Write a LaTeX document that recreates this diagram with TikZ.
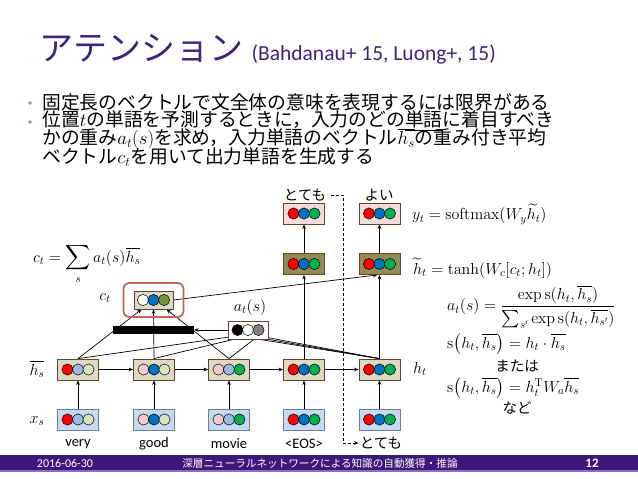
\RequirePackage{fix-cm}
\documentclass[tikz,border=0pt]{standalone}
\usepackage{amsmath}
\usepackage[no-math]{fontspec}
\setmainfont{Carlito}
\newfontfamily\jp{Noto Sans CJK JP}
\usetikzlibrary{arrows.meta}
\definecolor{tpurple}{RGB}{63,36,124}
\definecolor{fpurple}{RGB}{58,26,120}
\definecolor{fline}{RGB}{140,110,200}
\definecolor{hfill}{RGB}{221,217,195}
\definecolor{hdraw}{RGB}{89,70,52}
\definecolor{xfill}{RGB}{197,217,241}
\definecolor{xdraw}{RGB}{110,125,150}
\definecolor{yfill}{RGB}{242,220,219}
\definecolor{tfill}{RGB}{148,138,84}
\definecolor{cred}{RGB}{255,0,0}
\definecolor{cblue}{RGB}{0,112,192}
\definecolor{cgreen}{RGB}{0,176,80}
\definecolor{clblue}{RGB}{155,187,225}
\definecolor{clgreen}{RGB}{215,228,189}
\definecolor{cpink}{RGB}{246,200,200}
\definecolor{colive}{RGB}{119,147,60}
\definecolor{cgray}{RGB}{128,128,128}
\definecolor{ctframe}{RGB}{192,100,95}
\definecolor{bulletc}{RGB}{130,150,190}
\pgfdeclarelayer{bg}
\pgfdeclarelayer{paper}
\pgfsetlayers{paper,bg,main}
\newcommand\triple[4]{%
  \node[dotn, fill=#2] (#1-1) at ([xshift=-10.5pt]#1.center) {};
  \node[dotn, fill=#3] (#1-2) at (#1.center) {};
  \node[dotn, fill=#4] (#1-3) at ([xshift=10.5pt]#1.center) {};
}
\begin{document}
\begin{tikzpicture}[x=1pt,y=-1pt,
  arr/.style={-{Stealth[length=4.5pt,width=3.6pt]}, line width=0.7pt},
  box/.style={draw=hdraw, line width=0.8pt, minimum width=41pt, minimum height=21pt, inner sep=0pt},
  hbox/.style={box, fill=hfill},
  xbox/.style={box, fill=xfill, draw=xdraw},
  ybox/.style={box, fill=yfill},
  tbox/.style={box, fill=tfill},
  dotn/.style={circle, draw=black, line width=0.5pt, minimum size=11.2pt, inner sep=0pt},
  jpl/.style={font=\jp\fontsize{14.5}{16}\selectfont, inner sep=0pt},
  eng/.style={font=\fontsize{14.5}{16}\selectfont, inner sep=0pt},
  mlab/.style={font=\fontsize{16}{18}\selectfont, inner sep=0pt},
  dlab/.style={font=\fontsize{16}{18}\selectfont, inner sep=0pt},
  btext/.style={anchor=west, inner sep=0pt, font=\jp\fontsize{18.8}{20}\selectfont},
]
\begin{pgfonlayer}{paper}
\fill[white] (0,0) rectangle (638,479);
\end{pgfonlayer}
\useasboundingbox (0,0) rectangle (638,479);

% title
\node[anchor=base west, inner sep=0pt, text=tpurple, font=\jp\fontsize{34}{36}\selectfont] (title) at (39,60) {アテンション};
\node[anchor=base west, inner sep=0pt, text=tpurple, font=\fontsize{21.5}{24}\selectfont] (cite) at ([xshift=8pt]title.base east) {(Bahdanau+ 15, Luong+, 15)};

% bullets
\fill[bulletc] (30,103) circle (1.8pt);
\fill[bulletc] (30,122) circle (1.8pt);
\node[btext] (b1) at (42,102) {固定長のベクトルで文全体の意味を表現するには限界がある};
\node[btext] (b2) at (42,121) {位置$t$の単語を予測するときに，入力のどの\underline{単語}に着目すべき};
\node[btext] (b3) at (42,139) {かの重み$a_t(s)$を求め，入力単語のベクトル$\overline{h_s}$の重み付き平均};
\node[btext] (b4) at (42,157) {ベクトル$c_t$を用いて出力単語を生成する};

% boxes
\node[xbox] (x1) at (78,419.5) {};
\node[xbox] (x2) at (154,419.5) {};
\node[xbox] (x3) at (229,419.5) {};
\node[xbox] (x4) at (304,419.5) {};
\node[xbox] (x5) at (379.5,419.5) {};
\node[hbox] (h1) at (78,369.5) {};
\node[hbox] (h2) at (154,369.5) {};
\node[hbox] (h3) at (229,369.5) {};
\node[hbox] (h4) at (304,369.5) {};
\node[hbox] (h5) at (379.5,369.5) {};
\node[tbox] (t4) at (304,264) {};
\node[tbox] (t5) at (379.5,264) {};
\node[ybox] (y4) at (304,213.5) {};
\node[ybox] (y5) at (379.5,213.5) {};
\node[draw=ctframe, line width=1.8pt, rounded corners=6pt, minimum width=60pt, minimum height=34pt] (ctf) at (153.5,300) {};
\node[box, fill=hfill, minimum width=39pt, minimum height=18pt] (ct) at (153.5,300) {};
\node[box, fill=white, minimum width=40pt, minimum height=18pt] (at) at (248,330) {};
\node[fill=black, minimum width=81pt, minimum height=8pt, inner sep=0pt] (bar) at (153.5,330) {};

\triple{x1}{cred}{clblue}{clgreen}
\triple{x2}{cpink}{cblue}{clgreen}
\triple{x3}{cpink}{clblue}{cgreen}
\triple{x4}{cred}{cblue}{cgreen}
\triple{x5}{cred}{cblue}{cgreen}
\triple{h1}{cred}{clblue}{clgreen}
\triple{h2}{cpink}{cblue}{clgreen}
\triple{h3}{cpink}{clblue}{cgreen}
\triple{h4}{cred}{cblue}{cgreen}
\triple{h5}{cred}{cblue}{cgreen}
\triple{t4}{cred}{cblue}{cgreen}
\triple{t5}{cred}{cblue}{cgreen}
\triple{y4}{cred}{cblue}{cgreen}
\triple{y5}{cred}{cblue}{cgreen}
\triple{ct}{white}{cblue}{colive}
\triple{at}{black}{white}{cgray}

% labels
\node[eng] (w1) at (78,444) {very};
\node[eng] (w2) at (154,444) {good};
\node[eng] (w3) at (229,444) {movie};
\node[eng] (w4) at (304,444) {\textless EOS\textgreater};
\node[jpl] (w5) at (381,443) {とても};
\node[jpl] (l4) at (305,195) {とても};
\node[jpl] (l5) at (379,195) {よい};
\node[dlab] (lhs) at (37,369) {$\overline{h_s}$};
\node[dlab] (lxs) at (37,421) {$x_s$};
\node[dlab] (lht) at (420,369) {$h_t$};
\node[dlab] (lct) at (105,298) {$c_t$};
\node[dlab] (lat) at (250,307) {$a_t(s)$};

% formulas
\node[mlab, anchor=base west] (fc) at (33,262) {$c_t = \displaystyle\sum_s a_t(s)\overline{h_s}$};
\node[mlab, anchor=west] (fy) at (412,214) {$y_t = \mathrm{softmax}(W_y\widetilde{h_t})$};
\node[mlab, anchor=west] (fh) at (413,268) {$\widetilde{h}_t = \tanh(W_c[c_t;h_t])$};
\node[mlab, anchor=west] (fa) at (447,307) {$a_t(s) = \dfrac{\exp \mathrm{s}(h_t,\overline{h_s})}{\sum_{s'}\exp \mathrm{s}(h_t,\overline{h_{s'}})}$};
\node[mlab, anchor=west] (fs1) at (447,344) {$\mathrm{s}\bigl(h_t,\overline{h_s}\bigr) = h_t\cdot\overline{h_s}$};
\node[jpl] (mata) at (517,366) {または};
\node[mlab, anchor=west] (fs2) at (447,388) {$\mathrm{s}\bigl(h_t,\overline{h_s}\bigr) = h_t^{\mathrm{T}}W_a\overline{h_s}$};
\node[jpl] (nado) at (517,408) {など};

% connectors
\begin{pgfonlayer}{bg}
\foreach \i in {1,...,5} { \draw[arr] (x\i.north) -- (h\i.south); }
\foreach \i/\j in {1/2,2/3,3/4,4/5} { \draw[arr] (h\i.east) -- (h\j.west); }
\draw[arr] (h4.north) -- (t4.south);
\draw[arr] (h5.north) -- (t5.south);
\draw[arr] (t4.north) -- (y4.south);
\draw[arr] (t5.north) -- (y5.south);
\draw[arr] (ct.east) -- ([xshift=-2pt]t5.south);
\draw[arr] (h1.north) -- ([xshift=-12pt]ct.south);
\draw[arr] (h2.north) -- (ct.south);
\draw[arr] (h3.north) -- ([xshift=13pt]ct.south);
\draw[arr] (h1.north) -- (at-1.south);
\draw[arr] (h2.north) -- (at-2.south);
\draw[arr] (h3.north) -- (at-3.south);
\draw[arr] (h5.north) -- (at-1.south);
\draw[arr] (h5.north) -- (at-2.south);
\draw[arr] (h5.north) -- (at-3.south);
\end{pgfonlayer}
\draw[arr] (at.west) -- (bar.east);
\coordinate (dtop) at (343,195);
\draw[arr, dash pattern=on 3pt off 2pt] ([xshift=5pt]l4.east) -- (dtop) |- ([xshift=-1pt]w5.west);

% footer
\fill[fpurple] (0,455) rectangle (638,470);
\fill[fline] (0,470) rectangle (638,472);
\node[text=white, inner sep=0pt, font=\fontsize{12}{14}\selectfont] (date) at (65,463) {2016-06-30};
\node[text=white, inner sep=0pt, font=\jp\fontsize{10.6}{12}\selectfont] (ftitle) at (320,463) {深層ニューラルネットワークによる知識の自動獲得・推論};
\node[text=white, inner sep=0pt, font=\bfseries\fontsize{13}{15}\selectfont] (pnum) at (592,463) {12};
\end{tikzpicture}
\end{document}
